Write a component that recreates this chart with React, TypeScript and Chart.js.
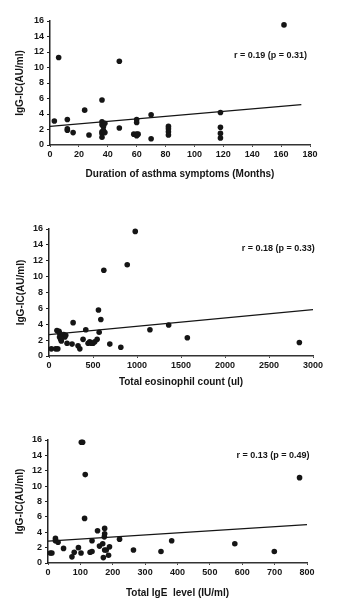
import React, { useEffect, useRef } from "react";
import { Chart, registerables } from "chart.js";

Chart.register(...registerables);

// ---- Data ----
const yTitle = "IgG-IC(AU/ml)";

const durationX = [3, 6, 12, 12, 12, 16, 24, 27, 36, 36, 36, 37, 38, 36, 36, 36, 38, 37, 48, 48, 60, 60, 58, 60, 61, 60, 70, 70, 82, 82, 82, 82, 118, 118, 118, 118, 162];
const durationY = [3.1, 11.3, 3.3, 2.1, 1.9, 1.6, 4.5, 1.3, 5.8, 3.0, 2.6, 2.4, 2.8, 1.7, 1.5, 1.0, 1.6, 1.9, 10.8, 2.2, 3.3, 2.9, 1.4, 1.4, 1.4, 1.2, 3.9, 0.8, 2.4, 2.1, 1.7, 1.3, 4.2, 2.3, 1.5, 0.9, 15.5];
const durationFitX = [0, 174];
const durationFitY = [2.4, 5.2];
const durationNote = "r = 0.19 (p = 0.31)";
const durationXTitle = "Duration of asthma symptoms (Months)";

const eosX = [27, 76, 100, 90, 114, 120, 120, 133, 140, 167, 180, 190, 205, 274, 262, 330, 350, 387, 418, 444, 463, 482, 500, 520, 547, 562, 570, 589, 623, 691, 816, 889, 980, 1147, 1360, 1572, 2845];
const eosY = [0.9, 0.9, 0.9, 3.2, 3.1, 2.9, 2.4, 2.1, 1.9, 2.7, 2.4, 2.6, 1.6, 4.2, 1.5, 1.3, 0.9, 2.1, 3.3, 1.6, 1.8, 1.6, 1.6, 1.8, 2.1, 5.8, 3.0, 4.6, 10.8, 1.5, 1.1, 11.5, 15.7, 3.3, 3.9, 2.3, 1.7];
const eosFitX = [0, 3000];
const eosFitY = [2.7, 5.85];
const eosNote = "r = 0.18 (p = 0.33)";
const eosXTitle = "Total eosinophil count (ul)";

const igeX = [7, 12, 23, 23, 31, 48, 74, 81, 94, 102, 103, 107, 115, 113, 130, 136, 136, 153, 159, 169, 171, 174, 175, 175, 175, 180, 187, 190, 221, 264, 349, 382, 577, 699, 777];
const igeY = [1.3, 1.3, 3.2, 2.9, 2.7, 1.9, 0.8, 1.4, 2.0, 1.3, 15.7, 15.7, 11.5, 5.8, 1.4, 1.5, 2.9, 4.2, 2.2, 2.5, 0.7, 3.4, 3.8, 4.5, 1.7, 1.7, 1.0, 2.1, 3.1, 1.7, 1.5, 2.9, 2.5, 1.5, 11.1];
const igeFitX = [0, 800];
const igeFitY = [2.85, 5.0];
const igeNote = "r = 0.13 (p = 0.49)";
const igeXTitle = "Total IgE  level (IU/ml)";

const yTicksMax = 16;
const yStep = 2;

type Panel = {
  xs: number[]; ys: number[]; fx: number[]; fy: number[];
  note: string; noteX: number; noteY: number;
  xTitle: string; xMax: number; xStep: number;
  top: number; height: number;
  areaTop: number; areaBottom: number; areaLeft: number; areaRight: number;
  xTitleY: number; yTitleX: number;
};

const panels: Panel[] = [
  {
    xs: durationX, ys: durationY, fx: durationFitX, fy: durationFitY,
    note: durationNote, noteX: 178, noteY: 11.5,
    xTitle: durationXTitle, xMax: 180, xStep: 20,
    top: 0, height: 195, areaTop: 21, areaBottom: 145, areaLeft: 50, areaRight: 310,
    xTitleY: 174, yTitleX: 20,
  },
  {
    xs: eosX, ys: eosY, fx: eosFitX, fy: eosFitY,
    note: eosNote, noteX: 3020, noteY: 13.5,
    xTitle: eosXTitle, xMax: 3000, xStep: 500,
    top: 198, height: 200, areaTop: 229, areaBottom: 356, areaLeft: 49, areaRight: 313,
    xTitleY: 382, yTitleX: 21,
  },
  {
    xs: igeX, ys: igeY, fx: igeFitX, fy: igeFitY,
    note: igeNote, noteX: 808, noteY: 14.0,
    xTitle: igeXTitle, xMax: 800, xStep: 100,
    top: 400, height: 207, areaTop: 440, areaBottom: 563, areaLeft: 48, areaRight: 307,
    xTitleY: 593, yTitleX: 20,
  },
];

const FONT = "'Liberation Sans', Arial, sans-serif";
const INK = "#151515";

function ScatterPanel({ p }: { p: Panel }) {
  const ref = useRef<HTMLCanvasElement | null>(null);
  useEffect(() => {
    if (!ref.current) return;
    const titleLH = 12;
    const xAxisH = p.height - (p.areaBottom - p.top);
    const xTitlePadBottom = p.height - (p.xTitleY - p.top) - titleLH / 2;
    const notePlugin = {
      id: "note",
      afterDatasetsDraw(chart: any) {
        const { ctx, scales } = chart;
        const x = scales.x.getPixelForValue(p.noteX);
        const y = scales.y.getPixelForValue(p.noteY);
        ctx.save();
        ctx.font = `bold 9px ${FONT}`;
        ctx.fillStyle = INK;
        ctx.textAlign = "right";
        ctx.textBaseline = "middle";
        ctx.fillText(p.note, x, y);
        ctx.restore();
      },
    };
    const chart = new Chart(ref.current, {
      type: "scatter",
      data: {
        datasets: [
          {
            type: "scatter",
            data: p.xs.map((x, i) => ({ x, y: p.ys[i] })),
            backgroundColor: INK,
            borderColor: INK,
            pointRadius: 2.8,
            borderWidth: 0,
            clip: false,
          },
          {
            type: "line",
            data: p.fx.map((x, i) => ({ x, y: p.fy[i] })),
            borderColor: INK,
            borderWidth: 1.3,
            pointRadius: 0,
            fill: false,
            tension: 0,
          } as any,
        ],
      },
      options: {
        animation: false,
        responsive: false,
        maintainAspectRatio: false,
        layout: {
          padding: { top: p.areaTop - p.top, left: 0, right: 353 - p.areaRight, bottom: 0 },
        },
        plugins: { legend: { display: false }, tooltip: { enabled: false } },
        scales: {
          x: {
            type: "linear",
            min: 0,
            max: p.xMax,
            ticks: {
              stepSize: p.xStep,
              color: INK,
              font: { family: FONT, size: 9, weight: "bold" },
              padding: 2,
              maxRotation: 0,
              callback: (v: any) => String(v),
            },
            grid: { display: true, drawOnChartArea: false, drawTicks: true, tickLength: 2, color: "#444" },
            border: { display: true, color: "#333", width: 1.5 },
            title: {
              display: true,
              text: p.xTitle,
              color: INK,
              font: { family: FONT, size: 10, weight: "bold" },
              padding: { top: 0, bottom: xTitlePadBottom },
            },
            afterFit: (s: any) => { s.height = xAxisH; },
          },
          y: {
            type: "linear",
            min: 0,
            max: yTicksMax,
            ticks: {
              stepSize: yStep,
              color: INK,
              font: { family: FONT, size: 9, weight: "bold" },
              padding: 3,
              callback: (v: any) => String(v),
            },
            grid: { display: true, drawOnChartArea: false, drawTicks: true, tickLength: 3, color: "#222" },
            border: { display: true, color: "#222", width: 1.5 },
            title: {
              display: true,
              text: yTitle,
              color: INK,
              font: { family: FONT, size: 10, weight: "bold" },
              padding: { top: p.yTitleX - titleLH / 2, bottom: 0 },
            },
            afterFit: (s: any) => { s.width = p.areaLeft; },
          },
        },
      } as any,
      plugins: [notePlugin],
    });
    return () => chart.destroy();
  }, [p]);
  return (
    <canvas
      ref={ref}
      width={353}
      height={p.height}
      style={{ position: "absolute", left: 0, top: p.top, width: 353, height: p.height }}
    />
  );
}

export default function App() {
  return (
    <div style={{ position: "absolute", left: 0, top: 0, width: 353, height: 607, background: "#fff" }}>
      {panels.map((p, i) => (
        <ScatterPanel key={i} p={p} />
      ))}
    </div>
  );
}
